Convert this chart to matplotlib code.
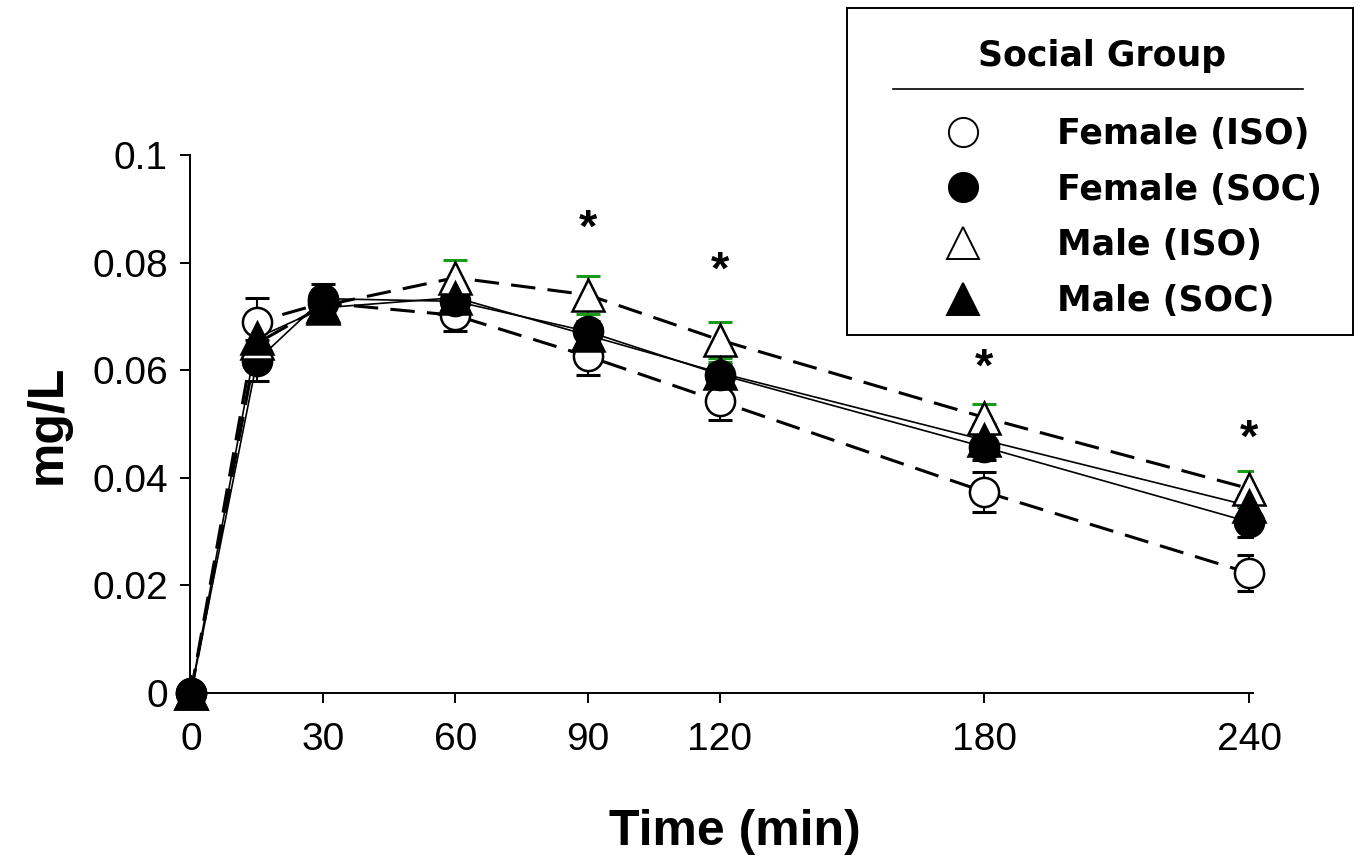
import matplotlib
matplotlib.use("Agg")
import matplotlib.pyplot as plt
from matplotlib.lines import Line2D
from matplotlib.patches import Rectangle

# ---------------- data ----------------
time_min = [0, 15, 30, 60, 90, 120, 180, 240]
x_ticks = [0, 30, 60, 90, 120, 180, 240]
y_ticks = [0, 0.02, 0.04, 0.06, 0.08, 0.1]
y_tick_labels = ["0", "0.02", "0.04", "0.06", "0.08", "0.1"]

female_iso = [0, 0.0690, 0.0725, 0.0702, 0.0626, 0.0542, 0.0374, 0.0223]
female_iso_se = [0, 0.0045, 0.0025, 0.0030, 0.0034, 0.0034, 0.0037, 0.0033]
female_soc = [0, 0.0618, 0.0733, 0.0728, 0.0672, 0.0592, 0.0457, 0.0318]
female_soc_se = [0, 0.0038, 0.0028, 0.0020, 0.0020, 0.0020, 0.0024, 0.0028]
male_iso = [0, 0.0650, 0.0720, 0.0772, 0.0740, 0.0656, 0.0512, 0.0380]
male_iso_se = [0, 0.0030, 0.0030, 0.0032, 0.0035, 0.0033, 0.0026, 0.0032]
male_soc = [0, 0.0660, 0.0716, 0.0735, 0.0665, 0.0595, 0.0470, 0.0348]
male_soc_se = [0, 0.0025, 0.0020, 0.0020, 0.0022, 0.0021, 0.0030, 0.0020]

group_labels = ["Female (ISO)", "Female (SOC)", "Male (ISO)", "Male (SOC)"]
star_times = [90, 120, 180, 240]
star_y = [0.0862, 0.0783, 0.0602, 0.0470]

# ---------------- figure ----------------
W, H = 1360, 863
fig = plt.figure(figsize=(W / 100, H / 100), dpi=100)
L, R, T, B = 190, 1253, 155, 693
ax = fig.add_axes([L / W, 1 - B / H, (R - L) / W, (B - T) / H])

tick_font = {"family": "Liberation Sans", "size": 28}

series = [
    (female_iso, female_iso_se, "o", "white", (0, (8, 4)), "black", 21, 2.2),
    (female_soc, female_soc_se, "o", "black", "-", "black", 21, 1.2),
    (male_iso, male_iso_se, "^", "white", (0, (8, 4)), "#1a9c1a", 22.5, 2.2),
    (male_soc, male_soc_se, "^", "black", "-", "#1a9c1a", 22.5, 1.2),
]

handles = []
for (vals, se, mk, fc, ls, ecol, ms, lw), lab in zip(series, group_labels):
    ax.plot(time_min, vals, color="black", linestyle=ls, linewidth=lw,
            zorder=2, solid_capstyle="butt", clip_on=False)
    ax.errorbar(time_min, vals, yerr=se, fmt="none", ecolor=ecol,
                elinewidth=1.5, capsize=8.5, capthick=2.2, zorder=3)
    ax.plot(time_min, vals, linestyle="none", marker=mk, markersize=ms,
            markerfacecolor=fc, markeredgecolor="black",
            markeredgewidth=1.8, zorder=4, clip_on=False)
    handles.append(Line2D([], [], linestyle="none", marker=mk,
                          markersize=ms, markerfacecolor=fc,
                          markeredgecolor="black", markeredgewidth=1.4))

for t, y in zip(star_times, star_y):
    ax.text(t, y, "*", ha="center", va="center", fontsize=34,
            fontweight="bold", family="Liberation Sans")

ax.set_xlim(-0.2, 240.9)
ax.set_ylim(0, 0.1)
ax.set_xticks(x_ticks)
ax.set_xticklabels([str(v) for v in x_ticks], fontdict=tick_font)
ax.set_yticks(y_ticks)
ax.set_yticklabels(y_tick_labels, fontdict=tick_font)
ax.tick_params(axis="both", direction="out", length=7, width=1.4,
               color="black")
ax.tick_params(axis="x", pad=14)
ax.tick_params(axis="y", pad=9)
for s in ["top", "right"]:
    ax.spines[s].set_visible(False)
for s in ["left", "bottom"]:
    ax.spines[s].set_linewidth(1.4)

ax.set_xlabel("Time (min)", fontsize=36, fontweight="bold",
              family="Liberation Sans")
ax.xaxis.set_label_coords((735 - L) / (R - L), 1 - (832 - T) / (B - T))
ax.xaxis.label.set_verticalalignment("center")
ax.set_ylabel("mg/L", fontsize=36, fontweight="bold",
              family="Liberation Sans")
ax.yaxis.set_label_coords((48 - L) / (R - L), 1 - (424 - T) / (B - T))
ax.yaxis.label.set_verticalalignment("center")

# ---------------- legend ----------------
box_l, box_t, box_r, box_b = 847, 8, 1353, 335
fig.add_artist(Rectangle((box_l / W, 1 - box_b / H),
                         (box_r - box_l) / W, (box_b - box_t) / H,
                         transform=fig.transFigure, facecolor="white",
                         edgecolor="black", linewidth=1.4, zorder=5))
fig.text(1102 / W, 1 - 56 / H, "Social Group", ha="center", va="center",
         fontsize=25, fontweight="bold", family="DejaVu Sans", zorder=6)
fig.add_artist(Line2D([893 / W, 1303 / W], [1 - 89 / H, 1 - 89 / H],
                      transform=fig.transFigure, color="black",
                      linewidth=1.2, zorder=6))
leg = fig.legend(handles, group_labels, loc="center left",
                 bbox_to_anchor=(928.5 / W, 1 - 217.5 / H),
                 bbox_transform=fig.transFigure, frameon=False,
                 prop={"family": "DejaVu Sans", "weight": "bold", "size": 25},
                 handlelength=1.0, handletextpad=2.2, labelspacing=0.63,
                 borderpad=0, numpoints=1)
leg.set_zorder(7)

fig.savefig("out.png", dpi=100)
